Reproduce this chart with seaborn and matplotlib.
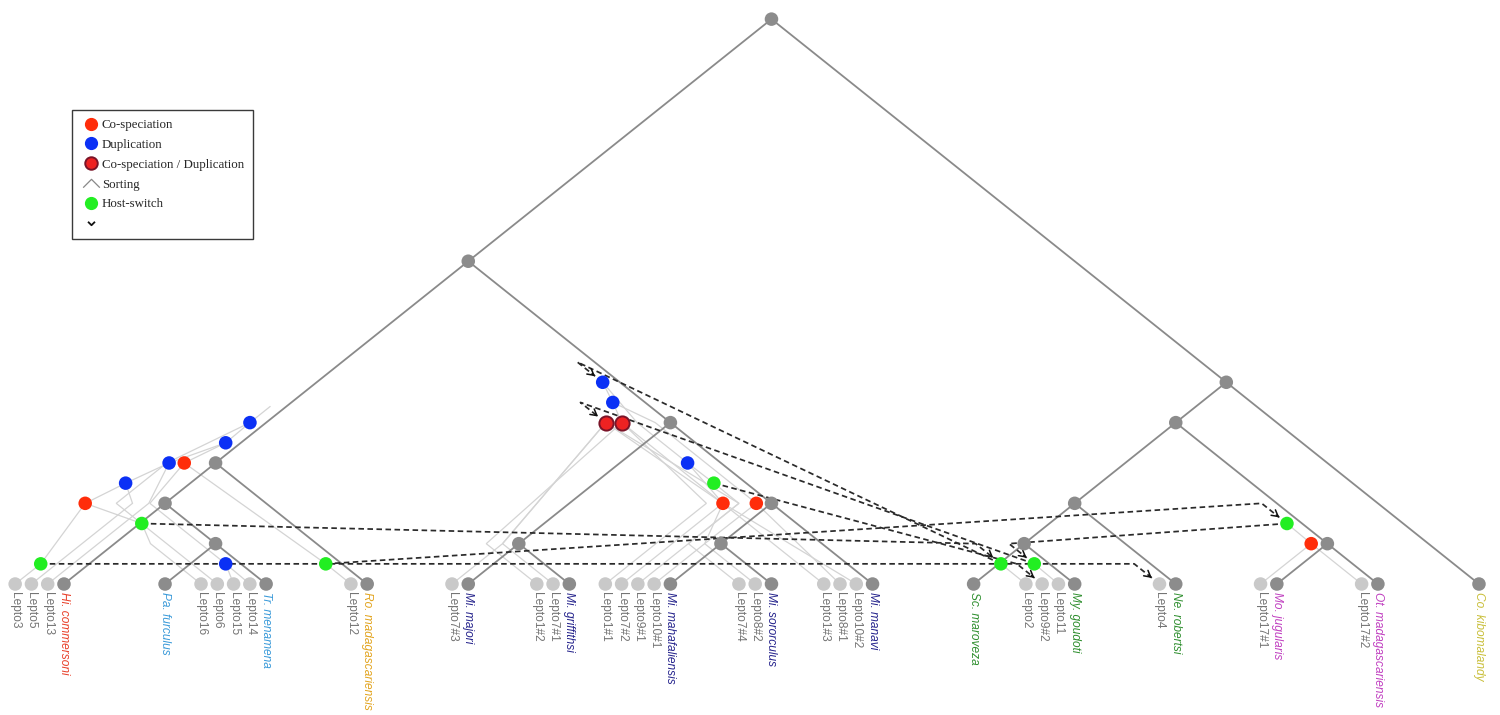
import matplotlib
matplotlib.use("Agg")
import numpy as np
import pandas as pd
import matplotlib.pyplot as plt
from matplotlib.lines import Line2D
from matplotlib.path import Path
import seaborn as sns

sns.set_theme(style="white")
plt.rcParams["font.family"] = ["Liberation Sans", "DejaVu Sans"]

# ---------------- host tree ----------------
host_tips = ["Hi. commersoni", "Pa. furculus", "Tr. menamena", "Ro. madagascariensis",
             "Mi. majori", "Mi. griffithsi", "Mi. mahafaliensis", "Mi. sororculus", "Mi. manavi",
             "Sc. maroveza", "My. goudoti", "Ne. robertsi", "Mo. jugularis",
             "Ot. madagascariensis", "Co. kibomalandy"]
host_tip_colors = ["#e8402a", "#3a9ad9", "#3a9ad9", "#e2a41f",
                   "#25238c", "#25238c", "#25238c", "#25238c", "#25238c",
                   "#2f8f2f", "#2f8f2f", "#2f8f2f", "#c03fc0", "#c03fc0", "#c9bf3a"]
# (clade, left child, right child), children listed before parents
host_clades = [
    ("PaTr", "Pa. furculus", "Tr. menamena"),
    ("HiPaTr", "Hi. commersoni", "PaTr"),
    ("West", "HiPaTr", "Ro. madagascariensis"),
    ("MajGri", "Mi. majori", "Mi. griffithsi"),
    ("MahSor", "Mi. mahafaliensis", "Mi. sororculus"),
    ("MahSorMan", "MahSor", "Mi. manavi"),
    ("Micro", "MajGri", "MahSorMan"),
    ("Left", "West", "Micro"),
    ("ScMy", "Sc. maroveza", "My. goudoti"),
    ("ScMyNe", "ScMy", "Ne. robertsi"),
    ("MoOt", "Mo. jugularis", "Ot. madagascariensis"),
    ("Nesomys", "ScMyNe", "MoOt"),
    ("Right", "Nesomys", "Co. kibomalandy"),
    ("Root", "Left", "Right"),
]

# ---------------- parasite tips ----------------
para_tips = ["Lepto3", "Lepto5", "Lepto13", "Lepto16", "Lepto6", "Lepto15", "Lepto14", "Lepto12",
             "Lepto7#3", "Lepto1#2", "Lepto7#1", "Lepto1#1", "Lepto7#2", "Lepto9#1", "Lepto10#1",
             "Lepto7#4", "Lepto8#2", "Lepto1#3", "Lepto8#1", "Lepto10#2",
             "Lepto2", "Lepto9#2", "Lepto11", "Lepto4", "Lepto17#1", "Lepto17#2"]
para_tip_host = ["Hi. commersoni"] * 3 + ["Tr. menamena"] * 4 + ["Ro. madagascariensis",
                 "Mi. majori", "Mi. griffithsi", "Mi. griffithsi"] + ["Mi. mahafaliensis"] * 4 + \
                ["Mi. sororculus"] * 2 + ["Mi. manavi"] * 3 + ["My. goudoti"] * 3 + \
                ["Ne. robertsi", "Mo. jugularis", "Ot. madagascariensis"]
para_tip_rank = [3, 2, 1, 4, 3, 2, 1, 1, 1, 2, 1, 4, 3, 2, 1, 2, 1, 3, 2, 1, 3, 2, 1, 1, 1, 1]
TIP_STEP = 0.161

# ---------------- reconciliation events ----------------
event_names = ["B1", "B2", "B3", "R1", "B4", "R2", "G1", "G2", "B5", "G3",
               "Bm1", "Bm2", "Pm1", "Pm2", "Bm3", "Gm", "Rm1", "Rm2",
               "Gr1", "Gr2", "Gr3", "Rr"]
event_kind = ["dup", "dup", "dup", "cosp", "dup", "cosp", "switch", "switch", "dup", "switch",
              "dup", "dup", "cospdup", "cospdup", "dup", "switch", "cosp", "cosp",
              "switch", "switch", "switch", "cosp"]
event_edge = ["West", "West", "West", "West", "HiPaTr", "HiPaTr", "Hi. commersoni",
              "Hi. commersoni", "Tr. menamena", "Ro. madagascariensis",
              "Micro", "Micro", "Micro", "Micro", "MahSorMan", "MahSorMan", "MahSorMan",
              "MahSorMan", "Sc. maroveza", "My. goudoti", "MoOt", "MoOt"]
event_time = [2.0, 1.75, 1.5, 1.5, 1.25, 1.0, 0.75, 0.25, 0.25, 0.25,
              2.5, 2.25, 2.0, 2.0, 1.5, 1.25, 1.0, 1.0,
              0.25, 0.25, 0.75, 0.5]
event_shift = [-0.16, -0.15, -0.46, -0.31, -0.64, -0.79, 0.02, -0.48, -0.15, -0.16,
               -0.17, -0.32, -0.64, -0.48, -0.33, -0.32, -0.48, -0.15,
               0.02, -0.15, -0.15, -0.16]

para_edges = [("B1", "B2"), ("B1", "Lepto6"), ("B2", "B3"), ("B2", "R1"), ("B3", "B4"),
              ("B3", "Lepto13"), ("B4", "R2"), ("B4", "Lepto5"), ("R2", "G2"), ("R2", "G1"),
              ("G2", "Lepto3"), ("G1", "Lepto16"), ("R1", "B5"), ("R1", "G3"),
              ("B5", "Lepto15"), ("B5", "Lepto14"), ("G3", "Lepto12"),
              ("Bm1", "Bm2"), ("Bm1", "Bm3"), ("Bm2", "Pm2"), ("Bm2", "Rm2"),
              ("Pm1", "Lepto7#3"), ("Pm1", "Lepto7#1"), ("Pm1", "Lepto7#2"), ("Pm1", "Lepto7#4"),
              ("Pm2", "Lepto1#2"), ("Pm2", "Lepto1#1"), ("Pm2", "Lepto1#3"),
              ("Bm3", "Gm"), ("Bm3", "Rm1"), ("Gm", "Lepto9#1"),
              ("Rm1", "Lepto10#1"), ("Rm1", "Lepto10#2"), ("Rm2", "Lepto8#2"), ("Rm2", "Lepto8#1"),
              ("Gr1", "Lepto2"), ("Gr2", "Lepto11"), ("Gr3", "Rr"),
              ("Rr", "Lepto17#1"), ("Rr", "Lepto17#2")]
host_switches = [("G2", "Lepto4"), ("G1", "Gr1"), ("G3", "Gr3"), ("Gr3", "Gr2"),
                 ("Gm", "Lepto9#2"), ("Gr1", "Bm1"), ("Gr2", "Pm1")]

event_colors = {"cosp": "#ff2d0a", "dup": "#0b30f5", "cospdup": "#ee2222", "switch": "#22ee22"}
HOST_LINE = "#8a8a8a"
HOST_NODE = "#8c8c8c"
PARA_LINE = "#d4d4d4"
PARA_TIP = "#c9c9c9"
SWITCH_LINE = "#2a2a2a"

# ---------------- slanted cladogram layout ----------------
parent = {}
lo, hi = {}, {}
for i, h in enumerate(host_tips):
    lo[h] = hi[h] = i
for node, a, b in host_clades:
    parent[a] = parent[b] = node
    lo[node] = min(lo[a], lo[b])
    hi[node] = max(hi[a], hi[b])
hx = {n: (lo[n] + hi[n]) / 2 for n in lo}
ht = {n: (hi[n] - lo[n]) / 2 for n in lo}


def edge_x(bottom, t):
    """x of the host branch above `bottom` at time t"""
    if bottom not in parent or t <= ht[bottom]:
        return hx[bottom]
    p = parent[bottom]
    f = (t - ht[bottom]) / (ht[p] - ht[bottom])
    return hx[bottom] + (hx[p] - hx[bottom]) * f


pos, anchor = {}, {}
for name, h, r in zip(para_tips, para_tip_host, para_tip_rank):
    pos[name] = (hx[h] - r * TIP_STEP, 0.0)
    anchor[name] = (h, -r * TIP_STEP)
for name, e, t, s in zip(event_names, event_edge, event_time, event_shift):
    pos[name] = (edge_x(e, t) + s, t)
    anchor[name] = (e, pos[name][0] - edge_x(e, t))


def lineage_path(par, child):
    cx, ct = pos[child]
    edge, shift = anchor[child]
    px_, pt_ = pos[par]
    xs, ts = [cx], [ct]
    node = edge
    while node in parent:
        node = parent[node]
        if ht[node] <= ct + 1e-9:
            continue
        if ht[node] >= pt_ - 1e-9:
            break
        xs.append(hx[node] + shift)
        ts.append(ht[node])
    xs.append(px_)
    ts.append(pt_)
    return xs, ts


# ---------------- figure ----------------
fig = plt.figure(figsize=(15, 7.15), dpi=100)
ax = fig.add_axes([0, 0, 1, 1])
ax.set_xlim(-0.633, 14.208)
ax.set_ylim(-1.623, 7.237)
ax.axis("off")

# parasite lineages
for par, child in para_edges:
    xs, ts = lineage_path(par, child)
    ax.plot(xs, ts, color=PARA_LINE, lw=0.9, zorder=1, solid_joinstyle="miter")
# stub above the parasite root
rx, rt = pos["B1"]
ax.plot([rx, edge_x("West", 2.2) + anchor["B1"][1]], [rt, 2.2], color=PARA_LINE, lw=0.9, zorder=1)

# host branches
for node, a, b in host_clades:
    for c in (a, b):
        ax.plot([hx[node], hx[c]], [ht[node], ht[c]], color=HOST_LINE, lw=1.3, zorder=2)

# host switches
dash = (0, (3.2, 2.0))
for src, dst in host_switches:
    sx, st = pos[src]
    dx_, dt = pos[dst]
    kx, kt = dx_ - 0.25, dt + 0.25
    tx, tt = dx_ - 0.075, dt + 0.075
    ax.plot([sx, kx, tx], [st, kt, tt], color=SWITCH_LINE, lw=1.25, ls=dash, zorder=3)
    ax.annotate("", xy=(tx, tt), xytext=(tx - 0.03, tt + 0.03),
                arrowprops=dict(arrowstyle="->,head_length=0.45,head_width=0.25",
                                color="#111111", lw=1.1, shrinkA=0, shrinkB=0,
                                mutation_scale=10), zorder=3)

# node markers
nodes = pd.DataFrame(
    [(hx[h], 0.0, "host") for h in host_tips]
    + [(hx[n], ht[n], "host") for n, _, _ in host_clades]
    + [(pos[p][0], 0.0, "tip") for p in para_tips]
    + [(pos[e][0], pos[e][1], k) for e, k in zip(event_names, event_kind)],
    columns=["x", "t", "kind"])
palette = {"host": HOST_NODE, "tip": PARA_TIP, **event_colors}
plain = nodes[nodes["kind"] != "cospdup"]
sns.scatterplot(data=plain, x="x", y="t", hue="kind", palette=palette, s=95,
                linewidth=0, legend=False, ax=ax, zorder=4)
sns.scatterplot(data=nodes[nodes["kind"] == "cospdup"], x="x", y="t", color=event_colors["cospdup"],
                s=105, edgecolor="#7a1428", linewidth=1.4, legend=False, ax=ax, zorder=5)

# tip labels
LABEL_T = -0.1
for h, c in zip(host_tips, host_tip_colors):
    ax.text(hx[h], LABEL_T, h, rotation=-90, ha="center", va="top", fontsize=8.6,
            style="italic", color=c)
for p in para_tips:
    ax.text(pos[p][0], LABEL_T, p, rotation=-90, ha="center", va="top", fontsize=8.6,
            color="#747474")

# legend
caret = Path([(-1.0, -0.5), (0.0, 0.5), (1.0, -0.5)], [Path.MOVETO, Path.LINETO, Path.LINETO])
chevron = Path([(-1.0, 0.5), (0.0, -0.5), (1.0, 0.5)], [Path.MOVETO, Path.LINETO, Path.LINETO])
handles = [
    Line2D([], [], ls="none", marker="o", ms=8.5, mfc=event_colors["cosp"], mec=event_colors["cosp"]),
    Line2D([], [], ls="none", marker="o", ms=8.5, mfc=event_colors["dup"], mec=event_colors["dup"]),
    Line2D([], [], ls="none", marker="o", ms=9, mfc=event_colors["cospdup"], mec="#7a1428", mew=1.4),
    Line2D([], [], ls="none", marker=caret, ms=12, mfc="none", mec="#888888", mew=0.9),
    Line2D([], [], ls="none", marker="o", ms=8.5, mfc=event_colors["switch"], mec=event_colors["switch"]),
    Line2D([], [], ls="none", marker=chevron, ms=5, mfc="none", mec="#111111", mew=1.3),
]
labels = ["Co-speciation", "Duplication", "Co-speciation / Duplication", "Sorting", "Host-switch", ""]
leg = ax.legend(handles, labels, loc="upper left", bbox_to_anchor=(0.048, 0.846),
                frameon=True, fancybox=False, edgecolor="#3a3a3a", framealpha=1,
                prop={"family": "Liberation Serif", "size": 9.3},
                handlelength=1.5, handletextpad=0.1, labelspacing=0.6,
                borderpad=0.7, borderaxespad=0)
leg.get_frame().set_linewidth(1.0)

fig.savefig("out.png", dpi=100, facecolor="white")
